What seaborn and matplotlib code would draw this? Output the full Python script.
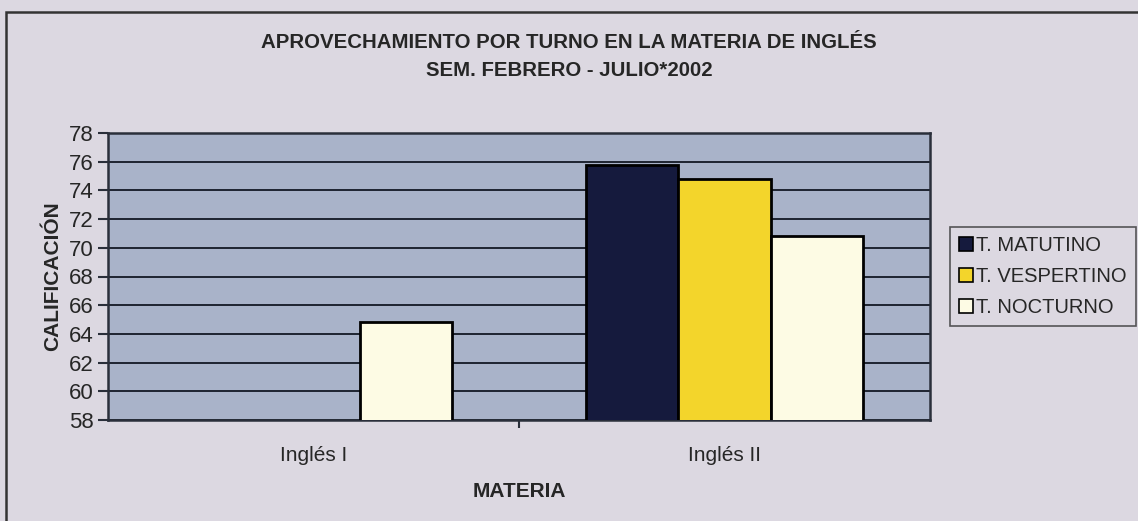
import numpy as np
import pandas as pd
import matplotlib
matplotlib.use("Agg")
import matplotlib.pyplot as plt
import seaborn as sns
from matplotlib.patches import Rectangle

# Data
materias = ["Inglés I", "Inglés II"]
turnos = ["T. MATUTINO", "T. VESPERTINO", "T. NOCTURNO"]
matutino = [np.nan, 75.8]
vespertino = [np.nan, 74.8]
nocturno = [64.8, 70.8]
yticks = list(range(58, 79, 2))

df = pd.DataFrame({
    "MATERIA": materias * 3,
    "TURNO": [turnos[0]] * 2 + [turnos[1]] * 2 + [turnos[2]] * 2,
    "CALIFICACIÓN": matutino + vespertino + nocturno,
})

sns.set_theme(style="white")
plt.rcParams["font.family"] = ["Liberation Sans", "DejaVu Sans"]

fig_bg = "#dcd8e1"
plot_bg = "#a9b3c9"
colors = ["#151a3d", "#f3d52b", "#fdfbe4"]

fig = plt.figure(figsize=(11.38, 5.21), dpi=100, facecolor=fig_bg)
ax = fig.add_axes([108 / 1138, (521 - 420) / 521, (930 - 108) / 1138, (420 - 133) / 521])
ax.set_facecolor(plot_bg)

sns.barplot(data=df, x="MATERIA", y="CALIFICACIÓN", hue="TURNO", order=materias,
            hue_order=turnos, palette=colors, width=0.675, edgecolor="black",
            linewidth=2, saturation=1, ax=ax, zorder=3)

ax.set_ylim(58, 78)
ax.set_yticks(yticks)
ax.set_xlim(-0.5, 1.5)
ax.yaxis.grid(True, color="#1e2430", linewidth=1.4, zorder=1)
ax.set_axisbelow(True)
for s in ax.spines.values():
    s.set_color("#2a2f3a")
    s.set_linewidth(1.8)
ax.tick_params(axis="y", which="both", left=True, length=7, width=1.5, color="#2a2f3a",
               labelsize=16, pad=3)
ax.tick_params(axis="x", bottom=False, labelsize=15, pad=13)
ax.set_xticks([0.5], minor=True)
ax.tick_params(axis="x", which="minor", bottom=True, length=6, width=1.5, color="#2a2f3a")

ax.set_ylabel("CALIFICACIÓN", fontsize=15, fontweight="bold", labelpad=5)
ax.set_xlabel("MATERIA", fontsize=15, fontweight="bold", labelpad=12)

leg = ax.legend(loc="upper left", bbox_to_anchor=(950 / 1138, (521 - 227) / 521),
                bbox_transform=fig.transFigure, frameon=True, fancybox=False,
                fontsize=14.5, handlelength=0.7, handleheight=0.7, handletextpad=0.15,
                borderpad=0.45, labelspacing=0.6, borderaxespad=0)
leg.get_frame().set_edgecolor("#333333")
leg.get_frame().set_linewidth(1.2)
leg.get_frame().set_facecolor(fig_bg)
for h in leg.legend_handles:
    h.set_edgecolor("black")
    h.set_linewidth(1.2)

fig.text(0.5, 1 - 42 / 521, "APROVECHAMIENTO POR TURNO EN LA MATERIA DE INGLÉS",
         ha="center", va="center", fontsize=14.7, fontweight="bold")
fig.text(0.5, 1 - 70 / 521, "SEM. FEBRERO - JULIO*2002",
         ha="center", va="center", fontsize=14.7, fontweight="bold")

fig.add_artist(Rectangle((6 / 1138, -0.05), 1.1, 1 - 12 / 521 + 0.05, transform=fig.transFigure,
                         fill=False, edgecolor="#333333", linewidth=1.8))

fig.savefig("out.png", dpi=100, facecolor=fig_bg)
